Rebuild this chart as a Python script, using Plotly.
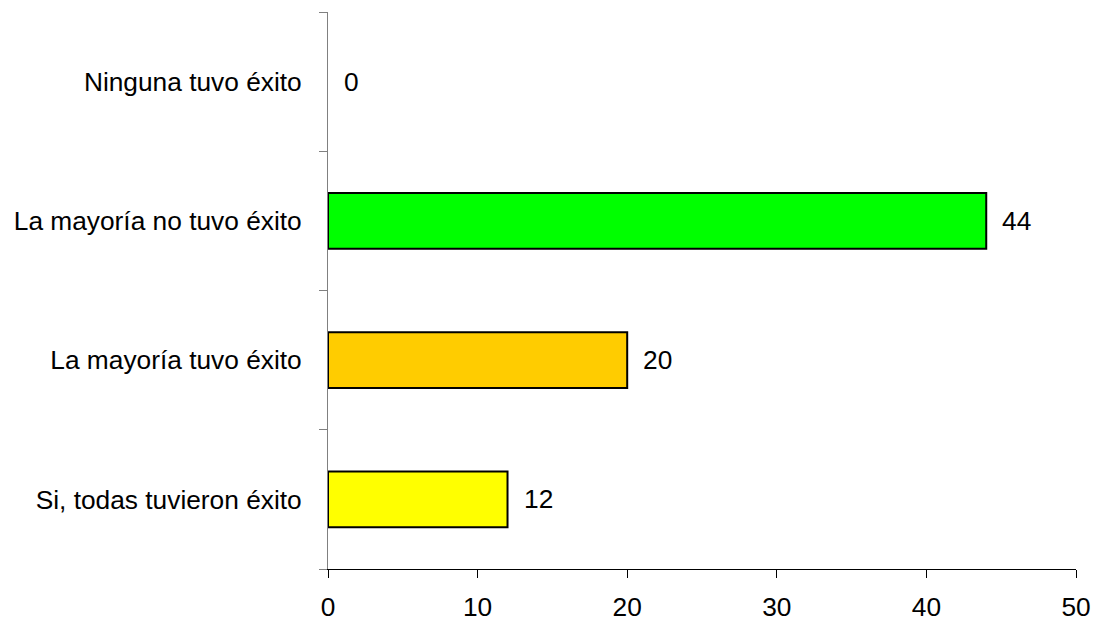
import plotly.graph_objects as go

categories = ["Si, todas tuvieron éxito", "La mayoría tuvo éxito",
              "La mayoría no tuvo éxito", "Ninguna tuvo éxito"]
values = [12, 20, 44, 0]
colors = ["#FFFF00", "#FFCC00", "#00FF00", "#FFFFFF"]
x_ticks = [0, 10, 20, 30, 40, 50]

font = dict(family="Liberation Sans, Arial, sans-serif", size=26.3, color="black")

fig = go.Figure()
fig.add_trace(go.Bar(
    y=categories, x=values, orientation="h", width=0.4,
    marker=dict(color=colors,
                line=dict(color="black", width=[2 if v > 0 else 0 for v in values])),
    hoverinfo="skip",
))

for c, v in zip(categories, values):
    fig.add_annotation(x=v, y=c, text=str(v), showarrow=False,
                       xanchor="left", xshift=14, font=font)

fig.update_layout(
    width=1094, height=615,
    margin=dict(l=320, r=26, t=4, b=54),
    paper_bgcolor="white", plot_bgcolor="white",
    showlegend=False, font=font,
    bargap=0.6,
)
fig.update_xaxes(range=[0, 50], tickvals=x_ticks, showgrid=False, zeroline=False,
                 showline=True, linecolor="black", linewidth=1, automargin=False,
                 ticks="outside", ticklen=8, tickcolor="black",
                 ticklabelstandoff=6, tickfont=font)
fig.update_yaxes(type="category", categoryorder="array", categoryarray=categories,
                 range=[-0.5, 3.5], showgrid=False, zeroline=False, automargin=False,
                 showline=True, linecolor="#808080", linewidth=1,
                 ticks="outside", tickson="boundaries", ticklen=8, tickcolor="#808080",
                 ticklabelstandoff=20, tickfont=font)

fig.write_html("out.html")
